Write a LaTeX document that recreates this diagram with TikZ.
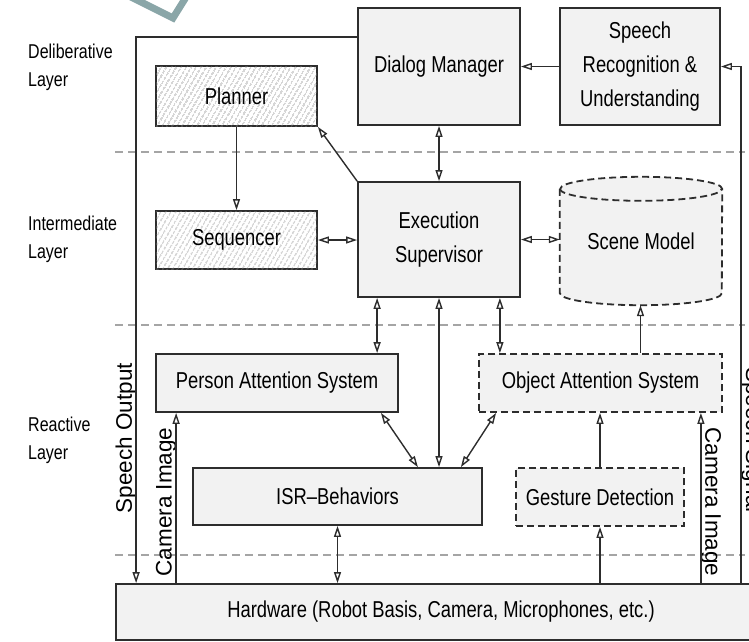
\documentclass[tikz,border=0pt]{standalone}
\usepackage{fontspec}
\setmainfont{Liberation Sans}[FakeStretch=0.8]
\newfontfamily\sidefont{Liberation Sans}
\usetikzlibrary{arrows.meta}
\usetikzlibrary{patterns.meta}
\usetikzlibrary{backgrounds}
\definecolor{boxgray}{RGB}{242,242,242}
\definecolor{linegray}{RGB}{45,45,45}
\definecolor{sepgray}{RGB}{165,165,165}
\definecolor{markteal}{RGB}{138,166,168}

\begin{document}
\begin{tikzpicture}[x=1pt,y=-1pt,
                    every node/.style={font=\fontsize{23}{34}\selectfont,
                      text=black},
                    box/.style={draw=linegray,
                      line width=1.8pt,
                      fill=boxgray,
                      inner sep=0pt,
                      align=center},
                    dashbox/.style={box, dash pattern=on 7pt off 4pt},
                    hatchbox/.style={box, fill=white,
                      postaction={pattern={Lines[angle=60,distance=4pt,line width=0.6pt]},
                        pattern color=black!45}},
                    layername/.style={anchor=west, align=left, inner sep=0pt,
                      font=\fontsize{20}{28}\selectfont},
                    sidelabel/.style={font=\sidefont\fontsize{22.5}{27}\selectfont},
                    oneway/.style={draw=linegray, line width=1.4pt,
                      -{Triangle[open,length=11pt,width=7pt]}},
                    twoway/.style={oneway,
                      {Triangle[open,length=11pt,width=7pt]}-{Triangle[open,length=11pt,width=7pt]}},
                    separator/.style={draw=sepgray, line width=1.5pt,
                      dash pattern=on 8pt off 5pt}]
\useasboundingbox (0,0) rectangle (749,641);
\clip (0,0) rectangle (749,641);
\draw[markteal, line width=7pt] (127,-5) -- (173,18) -- (188,-6);
\draw[separator] (115,152) -- (745,152);
\draw[separator] (115,325) -- (745,325);
\draw[separator] (115,555) -- (745,555);
\node[layername] (delib) at (28,67) {Deliberative\\Layer};
\node[layername] (inter) at (28,239) {Intermediate\\Layer};
\node[layername] (react) at (28,440) {Reactive\\Layer};
\node[box, minimum width=162pt, minimum height=117pt] (dialog) at (439,66.5) {Dialog Manager};
\node[box, minimum width=160pt, minimum height=117pt] (speech) at (640,66.5) {Speech\\Recognition \&\\Understanding};
\node[hatchbox, minimum width=161pt, minimum height=60pt] (planner) at (236.5,96) {Planner};
\node[hatchbox, minimum width=161pt, minimum height=58pt] (sequencer) at (236.5,240) {Sequencer};
\node[box, minimum width=162pt, minimum height=115pt] (exec) at (439,239.5) {Execution\\Supervisor};
\node[minimum width=162pt, minimum height=128pt, inner sep=0pt] (scene) at (641,241) {Scene Model};
\begin{scope}[on background layer]
\draw[dashbox] ([yshift=-12pt]scene.north west) -- ([yshift=12pt]scene.south west)
  arc[start angle=180, end angle=360, x radius=81pt, y radius=12pt]
  -- ([yshift=-12pt]scene.north east)
  arc[start angle=0, end angle=180, x radius=81pt, y radius=12pt] -- cycle;
\draw[dashbox, fill=none] ([yshift=-12pt]scene.north west)
  arc[start angle=180, end angle=360, x radius=81pt, y radius=12pt];
\end{scope}
\node[box, minimum width=242pt, minimum height=58pt] (person) at (277,383) {Person Attention System};
\node[dashbox, minimum width=243pt, minimum height=58pt] (object) at (600.5,383) {Object Attention System};
\node[box, minimum width=289pt, minimum height=57pt] (isr) at (337.5,496.5) {ISR--Behaviors};
\node[dashbox, minimum width=168pt, minimum height=58pt] (gesture) at (600,497) {Gesture Detection};
\node[box, minimum width=650pt, minimum height=56pt] (hardware) at (441,612) {Hardware (Robot Basis, Camera, Microphones, etc.)};
\node[sidelabel, rotate=90] (speechout) at (126,438) {Speech Output};
\node[sidelabel, rotate=90] (camleft) at (166,502) {Camera Image};
\node[sidelabel, rotate=-90] (camright) at (711,502) {Camera Image};
\node[sidelabel, rotate=-90] (speechsig) at (752,440) {Speech Signal};
\draw[oneway] (speech.west) -- (dialog.east);
\draw[oneway] ([xshift=300pt]hardware.north) |- (speech.east);
\draw[oneway] ([yshift=-30pt]dialog.north west) -| ([xshift=21pt]hardware.north west);
\draw[oneway] ([xshift=61pt]hardware.north west) -- ([xshift=61pt]hardware.north west |- person.south);
\draw[oneway] (planner) -- (sequencer);
\draw[oneway] (exec.north west) -- (planner.south east);
\draw[twoway] (dialog) -- (exec);
\draw[twoway] (sequencer.east) -- (sequencer.east -| exec.west);
\draw[twoway] (exec.east) -- (exec.east -| scene.west);
\draw[oneway] ([xshift=40pt]object.north) -- ([xshift=40pt]object.north |- scene.south);
\draw[twoway] ([xshift=20pt]exec.south west) -- ([xshift=20pt]exec.south west |- person.north);
\draw[twoway] (exec.south) -- (exec.south |- isr.north);
\draw[twoway] ([xshift=-21pt]exec.south east) -- ([xshift=-21pt]exec.south east |- object.north);
\draw[twoway] ([xshift=-18pt]person.south east) -- ([xshift=-65pt]isr.north east);
\draw[twoway] ([xshift=18pt]object.south west) -- ([xshift=-22pt]isr.north east);
\draw[oneway] (gesture.north) -- (gesture.north |- object.south);
\draw[oneway] (gesture.south |- hardware.north) -- (gesture.south);
\draw[oneway] ([xshift=-22pt]object.south east |- hardware.north) -- ([xshift=-22pt]object.south east);
\draw[twoway] (isr.south) -- (isr.south |- hardware.north);
\end{tikzpicture}
\end{document}
